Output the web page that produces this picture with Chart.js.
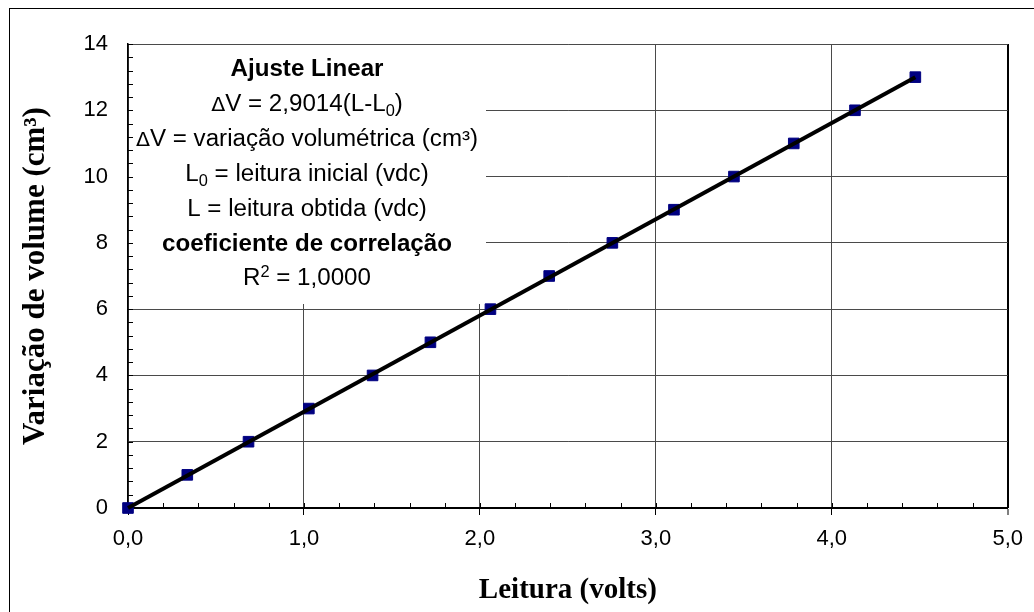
<!DOCTYPE html>
<html><head><meta charset="utf-8">
<script src="https://cdn.jsdelivr.net/npm/chart.js@4"></script>
<style>html,body{margin:0;padding:0;background:#fff;} canvas{display:block;}</style>
</head><body>
<canvas id="c" width="1034" height="612"></canvas>
<script>
// ---- data ----
const leituras = [0, 0.337, 0.685, 1.028, 1.390, 1.719, 2.060, 2.394, 2.753, 3.103, 3.444, 3.784, 4.132, 4.475];
const volumes  = [0, 1, 2, 3, 4, 5, 6, 7, 8, 9, 10, 11, 12, 13];
const ajusteX  = [0, 4.475];
const ajusteY  = [0, 13];
const xTickValues = [0, 1, 2, 3, 4, 5];
const yTickValues = [0, 2, 4, 6, 8, 10, 12, 14];
const xTitle = 'Leitura (volts)';
const yTitle = 'Variação de volume (cm³)';
const notaLinhas = [
  [{t:'Ajuste Linear', b:true}],
  [{t:'Δ', d:true}, {t:'V = 2,9014(L-L'}, {t:'0', sub:true}, {t:')'}],
  [{t:'Δ', d:true}, {t:'V = variação volumétrica (cm³)'}],
  [{t:'L'}, {t:'0', sub:true}, {t:' = leitura inicial (vdc)'}],
  [{t:'L = leitura obtida (vdc)'}],
  [{t:'coeficiente de correlação', b:true}],
  [{t:'R'}, {t:'2', sup:true}, {t:' = 1,0000'}]
];

const FS = 23, SX = 1.05;
function segFont(s){
  if (s.sub || s.sup) return (FS*0.68)+'px "Liberation Sans"';
  if (s.d) return (FS*0.85)+'px "DejaVu Sans"';
  return (s.b ? 'bold ' : '') + FS + 'px "Liberation Sans"';
}

const decor = {
  id: 'decor',
  beforeDraw(chart){
    const ctx = chart.ctx;
    ctx.save();
    ctx.fillStyle = '#fff';
    ctx.fillRect(0, 0, chart.width, chart.height);
    ctx.strokeStyle = '#000';
    ctx.lineWidth = 1;
    ctx.strokeRect(9.5, 8.5, chart.width + 40, chart.height + 40);
    ctx.restore();
  },
  beforeDatasetsDraw(chart){
    const {ctx, chartArea: a, scales: {x, y}} = chart;
    ctx.save();
    // white annotation box hiding the grid
    ctx.fillStyle = '#fff';
    ctx.fillRect(a.left + 1, a.top + 1, 357, 259);
    // minor ticks
    ctx.strokeStyle = '#000';
    ctx.lineWidth = 1;
    ctx.beginPath();
    for (let i = 0; i <= 35; i++) {
      const py = Math.round(y.getPixelForValue(i * 0.4)) + 0.5;
      ctx.moveTo(a.left, py); ctx.lineTo(a.left + 5, py);
    }
    for (let i = 0; i <= 25; i++) {
      const px = Math.round(x.getPixelForValue(i * 0.2)) + 0.5;
      ctx.moveTo(px, a.bottom); ctx.lineTo(px, a.bottom - 5);
    }
    ctx.stroke();
    // annotation text
    ctx.fillStyle = '#000';
    ctx.textBaseline = 'alphabetic';
    ctx.textAlign = 'left';
    const cx = a.left + 179;
    notaLinhas.forEach((line, li) => {
      const base = a.top + 32 + li * 34.9;
      let w = 0;
      line.forEach(s => { ctx.font = segFont(s); w += ctx.measureText(s.t).width; });
      ctx.save();
      ctx.translate(cx, base);
      ctx.scale(SX, 1);
      let xx = -w / 2;
      line.forEach(s => {
        ctx.font = segFont(s);
        let dy = 0;
        if (s.sub) dy = 5;
        if (s.sup) dy = -8;
        ctx.fillText(s.t, xx, dy);
        xx += ctx.measureText(s.t).width;
      });
      ctx.restore();
    });
    ctx.restore();
  }
};

const gridCol = '#4a4a4a';
new Chart(document.getElementById('c'), {
  type: 'scatter',
  data: {
    datasets: [
      {
        label: 'Ajuste',
        data: ajusteX.map((v, i) => ({x: v, y: ajusteY[i]})),
        showLine: true, borderColor: '#000', borderWidth: 4,
        pointRadius: 0, order: 0, clip: false
      },
      {
        label: 'Medidas',
        data: leituras.map((v, i) => ({x: v, y: volumes[i]})),
        showLine: false, pointStyle: 'rect', pointRadius: 7.5,
        backgroundColor: '#000080', borderColor: '#000080', borderWidth: 1,
        order: 1, clip: false
      }
    ]
  },
  options: {
    responsive: false,
    animation: false,
    devicePixelRatio: 1,
    layout: {padding: {top: 44, right: 21, bottom: 0, left: 0}},
    plugins: {legend: {display: false}, tooltip: {enabled: false}},
    scales: {
      x: {
        type: 'linear', min: 0, max: 5,
        afterBuildTicks: s => { s.ticks = xTickValues.map(v => ({value: v})); },
        afterFit: s => { s.height = 104; },
        ticks: {
          color: '#000', font: {family: 'Liberation Sans', size: 22}, padding: 11,
          maxRotation: 0, callback: v => Number(v).toFixed(1).replace('.', ',')
        },
        grid: {
          color: c => (c.tick && c.tick.value === 5) ? '#000' : gridCol,
          lineWidth: c => (c.tick && c.tick.value === 5) ? 2 : 1,
          drawTicks: true, tickLength: 7, tickColor: '#000', tickWidth: 1
        },
        border: {color: '#000', width: 2},
        title: {
          display: true, text: xTitle, color: '#000',
          font: {family: 'Liberation Serif', size: 29, weight: 'bold'},
          padding: {top: 0, bottom: 4}
        }
      },
      y: {
        type: 'linear', min: 0, max: 14,
        afterBuildTicks: s => { s.ticks = yTickValues.map(v => ({value: v})); },
        afterFit: s => { s.width = 128; },
        ticks: {color: '#000', font: {family: 'Liberation Sans', size: 22}, padding: 20},
        grid: {color: gridCol, lineWidth: 1, drawTicks: false},
        border: {color: '#000', width: 1.5},
        title: {
          display: true, text: yTitle, color: '#000',
          font: {family: 'Liberation Serif', size: 31, weight: 'bold'},
          padding: {top: 17, bottom: 0}
        }
      }
    }
  },
  plugins: [decor]
});
</script>
</body></html>
